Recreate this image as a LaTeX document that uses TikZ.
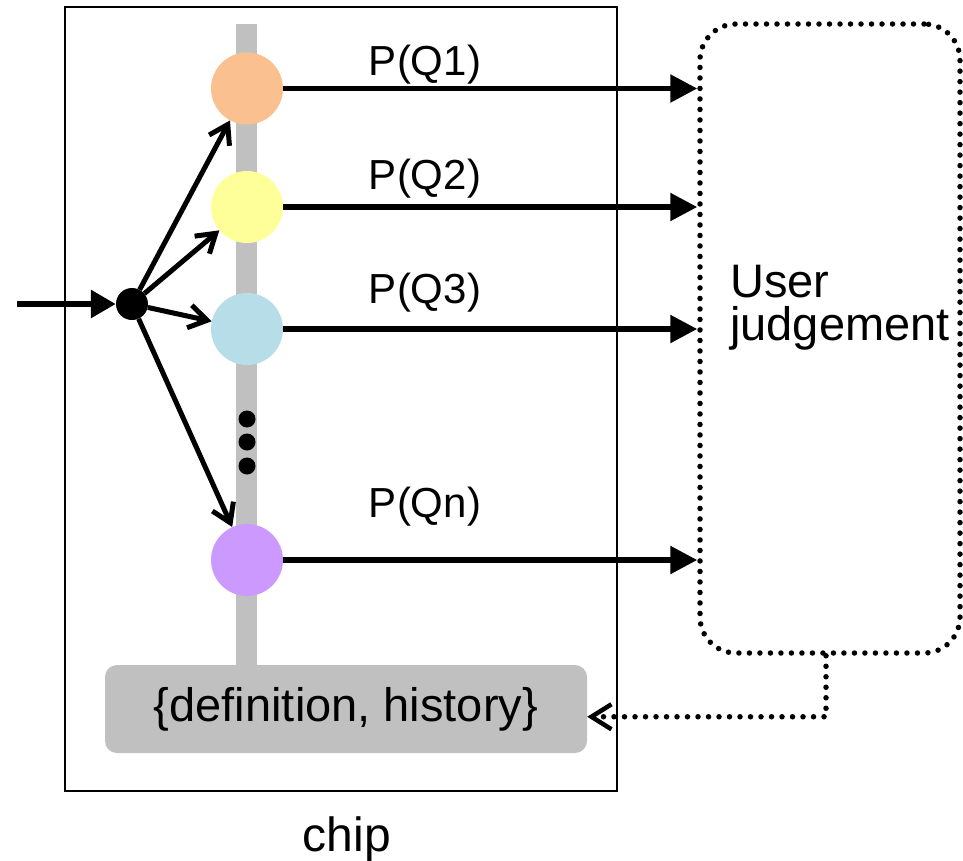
\documentclass[tikz,border=0pt]{standalone}
\usepackage{fontspec}
\setmainfont{Liberation Sans}
\usetikzlibrary{arrows.meta,calc}
\definecolor{barGray}{RGB}{192,192,192}
\definecolor{qOrange}{RGB}{250,192,144}
\definecolor{qYellow}{RGB}{255,255,153}
\definecolor{qCyan}{RGB}{183,222,232}
\definecolor{qPurple}{RGB}{204,153,255}
\begin{document}
\begin{tikzpicture}[x=1pt,y=-1pt,
  qnode/.style={circle,minimum size=72pt,inner sep=0pt,draw=none},
  flow/.style={line width=5.5pt,-{Triangle[length=27pt,width=27pt]}},
  fan/.style={line width=5pt,-{Straight Barb[length=18pt,width=23pt,line width=5pt]}},
  plabel/.style={anchor=base,inner sep=0pt,font=\fontsize{42}{48}\selectfont},
  bigtext/.style={inner sep=0pt,font=\fontsize{47}{52}\selectfont},
  dotline/.style={line width=5.5pt,line cap=round,dash pattern=on 0pt off 10.5pt}
]
\useasboundingbox (0,0) rectangle (963,860);

% chip outline
\node (chip) [draw, line width=1.6pt, minimum width=552pt, minimum height=784pt, inner sep=0pt] at (341,399) {};

% vertical bus
\fill[barGray] (236,24) rectangle (257,668);

% query circles
\node (q1) [qnode, fill=qOrange] at (247,88.5) {};
\node (q2) [qnode, fill=qYellow] at (247,207) {};
\node (q3) [qnode, fill=qCyan]   at (247,329) {};
\node (qn) [qnode, fill=qPurple] at (247,560) {};

% ellipsis on the bus
\fill (247,419) circle (8.5pt);
\fill (247,442) circle (8.5pt);
\fill (247,466) circle (8.5pt);

% storage block
\node (store) [fill=barGray, rounded corners=12pt, minimum width=482pt, minimum height=88pt, bigtext] at (346,709) {\{definition, history\}};

% user judgement box
\node (user) [draw, dotline, rounded corners=36pt, minimum width=260pt, minimum height=629pt] at (830,338.5) {};
\node (ujA) [bigtext, anchor=base west] at (730,297) {User};
\node (ujB) [bigtext, anchor=base west] at (730,340) {judgement};

% input and fan-out
\node (hub) [circle, fill, minimum size=32pt, inner sep=0pt] at (132,304) {};
\coordinate (in) at (17,304);
\draw[line width=6pt,-{Triangle[length=25pt,width=27pt]}] (in) -- (hub);
\draw[fan] (hub) -- (q1);
\draw[fan] (hub) -- (q2);
\draw[fan] (hub) -- (q3);
\draw[fan] (hub) -- (qn);

% probabilities sent to the user
\draw[flow] (q1.east) -- (q1.east -| user.west);
\draw[flow] (q2.east) -- (q2.east -| user.west);
\draw[flow] (q3.east) -- (q3.east -| user.west);
\draw[flow] (qn.east) -- (qn.east -| user.west);
\node (l1) [plabel] at (425,75)  {P(Q1)};
\node (l2) [plabel] at (425,189) {P(Q2)};
\node (l3) [plabel] at (425,303) {P(Q3)};
\node (ln) [plabel] at (425,517) {P(Qn)};

% feedback into storage
\path (user.south) ++(-4,0) coordinate (fbTop);
\coordinate (fbCorner) at ($(fbTop)+(0,61)$);
\draw[dotline, -{Straight Barb[length=20pt,width=25pt,line width=4.5pt]}] (fbTop) -- (fbCorner) -- (fbCorner -| store.east);

% caption
\node (chiplabel) [inner sep=0pt, font=\fontsize{48}{52}\selectfont, anchor=base] at (347,851) {chip};
\end{tikzpicture}
\end{document}
